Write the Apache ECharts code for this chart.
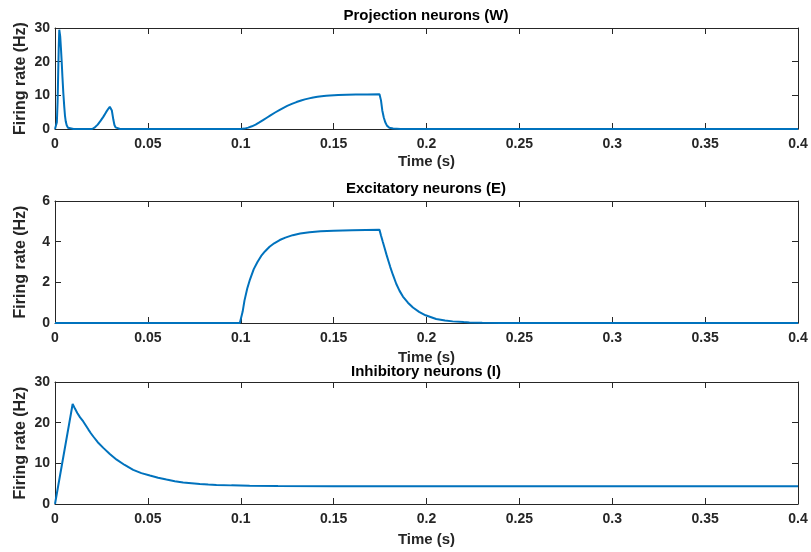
<!DOCTYPE html>
<html>
<head>
<meta charset="utf-8">
<script src="https://cdn.jsdelivr.net/npm/echarts@6/dist/echarts.min.js"></script>
<style>
html,body{margin:0;padding:0;background:#fff;}
#chart{width:811px;height:552px;}
</style>
</head>
<body>
<div id="chart"></div>
<script>
// ---- data ----
var titles = ['Projection neurons (W)', 'Excitatory neurons (E)', 'Inhibitory neurons (I)'];
var xTicks = [0, 0.05, 0.1, 0.15, 0.2, 0.25, 0.3, 0.35, 0.4];
var yMax = [30, 6, 30];
var yStep = [10, 2, 10];

var wTime = [0, 0.0005, 0.001, 0.0014, 0.0017, 0.002, 0.0023, 0.0028, 0.0032, 0.0036, 0.004, 0.0045, 0.005, 0.0054, 0.0058, 0.0063, 0.007, 0.008, 0.01,
  0.02, 0.0215, 0.023, 0.0245, 0.026, 0.0275, 0.0287, 0.0295, 0.03, 0.0306, 0.0314, 0.032, 0.0326, 0.0335, 0.035,
  0.1, 0.102, 0.104, 0.106, 0.108, 0.11, 0.112, 0.114, 0.116, 0.1185, 0.121, 0.123, 0.125, 0.1275, 0.13, 0.1325, 0.1345, 0.1368, 0.139, 0.1413, 0.1435,
  0.146, 0.148, 0.1525, 0.157, 0.162, 0.168, 0.1747,
  0.1755, 0.1762, 0.177, 0.1778, 0.1787, 0.18, 0.182, 0.186, 0.4];
var wRate = [0, 0, 2, 8, 16, 24, 29.5, 27.5, 24, 20, 15.5, 10.5, 6.5, 3.8, 2.2, 1.1, 0.4, 0.1, 0,
  0, 0.5, 1.3, 2.4, 3.6, 5.0, 6.0, 6.6, 6.8, 5.5, 2.8, 1.2, 0.5, 0.15, 0,
  0, 0.12, 0.4, 0.8, 1.3, 1.95, 2.65, 3.35, 4.05, 4.9, 5.7, 6.3, 6.85, 7.45, 8.0, 8.45, 8.8, 9.1, 9.35, 9.55, 9.72,
  9.85, 9.95, 10.08, 10.16, 10.22, 10.27, 10.3,
  8.5, 5.5, 3.4, 2.0, 1.0, 0.4, 0.15, 0.02, 0];

var eTime = [0, 0.0995, 0.101, 0.102, 0.1035, 0.105, 0.107, 0.109, 0.111, 0.113, 0.1155, 0.118, 0.121, 0.124, 0.128, 0.132, 0.137, 0.143, 0.15, 0.16, 0.1747,
  0.1755, 0.1765, 0.1774, 0.1785, 0.1795, 0.1805, 0.182, 0.1837, 0.1855, 0.1873, 0.19, 0.1927, 0.196, 0.1995, 0.2052, 0.21, 0.2141, 0.22, 0.2231, 0.23, 0.24, 0.25, 0.4];
var eRate = [0, 0, 0.55, 1.1, 1.7, 2.15, 2.65, 3.0, 3.3, 3.52, 3.75, 3.92, 4.08, 4.2, 4.32, 4.4, 4.46, 4.51, 4.54, 4.56, 4.58,
  4.3, 3.98, 3.7, 3.35, 3.05, 2.75, 2.35, 1.93, 1.58, 1.3, 1.0, 0.76, 0.55, 0.38, 0.2, 0.12, 0.08, 0.045, 0.03, 0.015, 0.005, 0, 0];

var iTime = [0, 0.0005, 0.0095, 0.0108, 0.012, 0.0135, 0.0152, 0.0166, 0.018, 0.0193, 0.0206, 0.023, 0.026, 0.0295, 0.0332, 0.0375, 0.0421, 0.0465, 0.0511, 0.0555,
  0.06, 0.0645, 0.069, 0.0735, 0.078, 0.0825, 0.0869, 0.095, 0.1048, 0.12, 0.15, 0.2, 0.4];
var iRate = [0, 0, 24.6, 23.4, 22.4, 21.3, 20.3, 19.3, 18.3, 17.4, 16.6, 15.2, 13.8, 12.3, 10.9, 9.6, 8.4, 7.6, 7.0, 6.45,
  6.0, 5.6, 5.3, 5.1, 4.9, 4.78, 4.68, 4.58, 4.5, 4.42, 4.37, 4.35, 4.35];

function pairs(t, v) { return t.map(function (x, k) { return [x, v[k]]; }); }
var seriesData = [pairs(wTime, wRate), pairs(eTime, eRate), pairs(iTime, iRate)];

// ---- layout ----
var FONT = 'Liberation Sans, Arial, Helvetica, sans-serif';
var AX = '#262626';
var grids = [
  {left: 55, right: 13, top: 28, height: 101},
  {left: 55, right: 13, top: 201, height: 122},
  {left: 55, right: 13, top: 382, height: 122}
];
var titleTops = [8, 181, 364];
var xNameGaps = [25, 27, 28];

var xAxes = [], yAxes = [], series = [], titleArr = [];
for (var g = 0; g < 3; g++) {
  var lineStyle = {color: AX, width: 1};
  xAxes.push({
    gridIndex: g, type: 'value', position: 'bottom', min: 0, max: 0.4, interval: 0.05,
    name: 'Time (s)', nameLocation: 'middle', nameGap: xNameGaps[g], nameMoveOverlap: false,
    nameTextStyle: {fontFamily: FONT, fontWeight: 'bold', fontSize: 15, color: AX},
    axisLine: {show: true, onZero: false, lineStyle: lineStyle},
    axisTick: {show: true, inside: true, length: 6, lineStyle: lineStyle},
    axisLabel: {show: true, margin: 8, fontFamily: FONT, fontWeight: 'bold', fontSize: 14, color: AX,
      formatter: function (v) { return String(+v.toFixed(2)); }},
    splitLine: {show: false}
  });
  xAxes.push({
    gridIndex: g, type: 'value', position: 'top', min: 0, max: 0.4, interval: 0.05,
    axisLine: {show: true, onZero: false, lineStyle: lineStyle},
    axisTick: {show: true, inside: true, length: 6, lineStyle: lineStyle},
    axisLabel: {show: false}, splitLine: {show: false}
  });
  yAxes.push({
    gridIndex: g, type: 'value', position: 'left', min: 0, max: yMax[g], interval: yStep[g],
    name: 'Firing rate (Hz)', nameLocation: 'middle', nameGap: 26, nameMoveOverlap: false,
    nameTextStyle: {fontFamily: FONT, fontWeight: 'bold', fontSize: 16, color: AX},
    axisLine: {show: true, onZero: false, lineStyle: lineStyle},
    axisTick: {show: true, inside: true, length: 6, lineStyle: lineStyle},
    axisLabel: {show: true, margin: 5, fontFamily: FONT, fontWeight: 'bold', fontSize: 14, color: AX},
    splitLine: {show: false}
  });
  yAxes.push({
    gridIndex: g, type: 'value', position: 'right', min: 0, max: yMax[g], interval: yStep[g],
    axisLine: {show: true, onZero: false, lineStyle: lineStyle},
    axisTick: {show: true, inside: true, length: 6, lineStyle: lineStyle},
    axisLabel: {show: false}, splitLine: {show: false}
  });
  series.push({
    type: 'line', xAxisIndex: 2 * g, yAxisIndex: 2 * g, data: seriesData[g],
    showSymbol: false, symbol: 'none', smooth: false, clip: false,
    lineStyle: {color: '#0072BD', width: 2}, z: 3
  });
  titleArr.push({
    text: titles[g], left: 426, top: titleTops[g], textAlign: 'center', padding: 0,
    textStyle: {fontFamily: FONT, fontWeight: 'bold', fontSize: 15, color: '#000'}
  });
}

var chart = echarts.init(document.getElementById('chart'), null, {renderer: 'canvas'});
chart.setOption({
  backgroundColor: '#fff',
  animation: false,
  title: titleArr,
  grid: grids,
  xAxis: xAxes,
  yAxis: yAxes,
  series: series
});
</script>
</body>
</html>
